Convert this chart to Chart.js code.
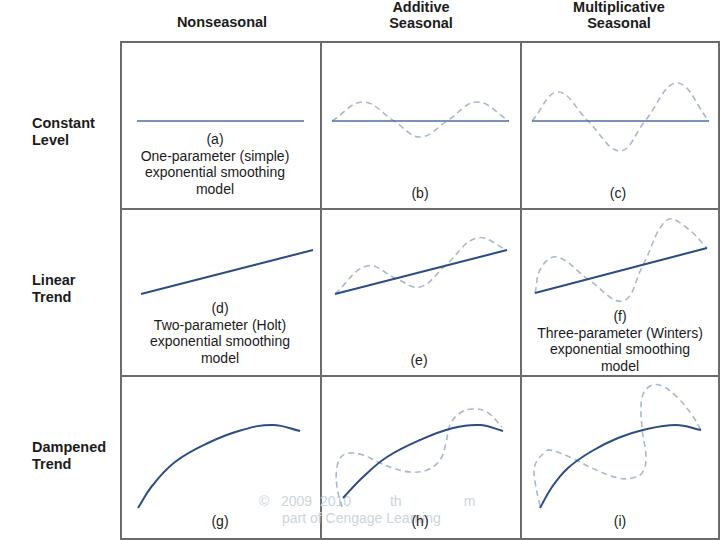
<!DOCTYPE html>
<html>
<head>
<meta charset="utf-8">
<script src="https://cdn.jsdelivr.net/npm/chart.js@4.4.1/dist/chart.umd.min.js"></script>
<style>
  html, body { margin: 0; padding: 0; background: #fff; }
  #page { position: relative; width: 720px; height: 540px; overflow: hidden; font-family: "Liberation Sans", Arial, sans-serif; color: #1b1b1b; }
  .hl, .vl { position: absolute; background: #6c6c6c; }
  .hl { height: 2px; left: 120px; width: 600px; }
  .vl { width: 2px; top: 41px; height: 499px; }
  .head { position: absolute; width: 200px; text-align: center; font-weight: bold; font-size: 14.5px; line-height: 16px; }
  .row { position: absolute; left: 32px; font-weight: bold; font-size: 14.5px; line-height: 16.5px; }
  .cap { position: absolute; width: 220px; text-align: center; font-size: 14px; line-height: 16.7px; }
  .wm { position: absolute; font-size: 14px; color: #cbd5dd; white-space: pre; }
  canvas { position: absolute; }
</style>
</head>
<body>
<div id="page">
  <!-- column headers -->
  <div class="head" style="left:122px;top:14px">Nonseasonal</div>
  <div class="head" style="left:321px;top:-1px">Additive<br>Seasonal</div>
  <div class="head" style="left:519px;top:-1px">Multiplicative<br>Seasonal</div>

  <!-- row headers -->
  <div class="row" style="top:115px">Constant<br>Level</div>
  <div class="row" style="top:272px">Linear<br>Trend</div>
  <div class="row" style="top:439px">Dampened<br>Trend</div>

  <!-- grid -->
  <div class="hl" style="top:41px"></div>
  <div class="hl" style="top:208px"></div>
  <div class="hl" style="top:375px"></div>
  <div class="hl" style="top:538px"></div>
  <div class="vl" style="left:120px"></div>
  <div class="vl" style="left:320px"></div>
  <div class="vl" style="left:520px"></div>
  <div class="vl" style="left:718px"></div>

  <!-- watermark -->
  <div class="wm" style="left:259px;top:493px">©   2009  2010          th                m</div>
  <div class="wm" style="left:282px;top:510px">part of Cengage Learning</div>

  <!-- panel captions -->
  <div class="cap" style="left:105px;top:131px">(a)<br>One-parameter (simple)<br>exponential smoothing<br>model</div>
  <div class="cap" style="left:310px;top:185px">(b)</div>
  <div class="cap" style="left:508px;top:185px">(c)</div>
  <div class="cap" style="left:110px;top:300px">(d)<br>Two-parameter (Holt)<br>exponential smoothing<br>model</div>
  <div class="cap" style="left:309px;top:352px">(e)</div>
  <div class="cap" style="left:510px;top:308px">(f)<br>Three-parameter (Winters)<br>exponential smoothing<br>model</div>
  <div class="cap" style="left:110px;top:513px">(g)</div>
  <div class="cap" style="left:310px;top:513px">(h)</div>
  <div class="cap" style="left:510px;top:513px">(i)</div>

  <canvas id="pa" width="200" height="167" style="left:121px;top:42px"></canvas>
  <canvas id="pb" width="200" height="167" style="left:321px;top:42px"></canvas>
  <canvas id="pc" width="198" height="167" style="left:521px;top:42px"></canvas>
  <canvas id="pd" width="200" height="167" style="left:121px;top:209px"></canvas>
  <canvas id="pe" width="200" height="167" style="left:321px;top:209px"></canvas>
  <canvas id="pf" width="198" height="167" style="left:521px;top:209px"></canvas>
  <canvas id="pg" width="200" height="163" style="left:121px;top:376px"></canvas>
  <canvas id="ph" width="200" height="163" style="left:321px;top:376px"></canvas>
  <canvas id="pi" width="198" height="163" style="left:521px;top:376px"></canvas>
</div>

<script>
// Time (x) and level (y) readings per panel, in panel units

// Constant level
const timeA = [16, 183];
const levelA = [88, 88];
const timeB = [11, 188];
const levelB = [88, 88];
const seasTimeB = [11, 42, 73, 99, 126, 156, 188];
const seasLevelB = [88, 107, 88, 72, 88, 107, 88];
const timeC = [11, 188];
const levelC = [88, 88];
const seasTimeC = [11, 37, 67, 99, 124, 156, 188];
const seasLevelC = [88, 117, 88, 58, 88, 126, 88];

// Linear trend
const timeD = [20, 192];
const levelD = [82, 126];
const timeE = [14, 186];
const levelE = [82, 126];
const seasTimeE = [14, 46, 76, 99, 124, 156, 186];
const seasLevelE = [82, 110, 97, 89, 110, 138, 126];
const timeF = [14, 186];
const levelF = [83, 128];
const seasTimeF = [14, 20, 36, 68, 102, 122, 146, 166, 186];
const seasLevelF = [83, 108, 119, 96, 75, 111, 156, 148, 128];

// Dampened trend
const timeG = [17, 31, 54, 87, 121, 152, 179];
const levelG = [31, 53, 77, 96, 109, 114, 108];
const timeH = [22, 42, 66, 99, 132, 159, 182];
const levelH = [41, 62, 82, 99, 111, 114, 108];
const seasTimeH = [21, 16, 16, 21, 29, 42, 57, 72, 89, 106, 119, 125, 129, 139, 152, 166, 181];
const seasLevelH = [32, 52, 72, 83, 86, 84, 77, 71, 67, 69, 79, 96, 114, 126, 130, 127, 112];
const timeI = [19, 31, 47, 71, 97, 122, 155, 180];
const levelI = [31, 52, 71, 88, 101, 109, 114, 109];
const seasTimeI = [19, 14, 14, 24, 29, 51, 71, 97, 111, 121, 125, 121, 121, 129, 141, 157, 171, 180];
const seasLevelI = [33, 58, 74, 87, 89, 81, 71, 61, 61, 66, 81, 111, 141, 153, 153, 141, 124, 109];

const solidBlue = "#2d4c84";
const flatBlue = "#4f6f9e";
const dashBlue = "#a9b8cc";

function points(t, y) {
  return t.map((x, i) => ({ x, y: y[i] }));
}

function solidLine(t, y, color = solidBlue, width = 2) {
  return {
    data: points(t, y),
    showLine: true,
    borderColor: color,
    borderWidth: width,
    tension: 0.4,
    pointRadius: 0,
    order: 1,
  };
}

function dashedLine(t, y) {
  return {
    data: points(t, y),
    showLine: true,
    borderColor: dashBlue,
    borderWidth: 1.6,
    borderDash: [6, 4],
    tension: 0.4,
    pointRadius: 0,
    order: 2,
  };
}

function panel(id, datasets) {
  const canvas = document.getElementById(id);
  return new Chart(canvas.getContext("2d"), {
    type: "scatter",
    data: { datasets },
    options: {
      responsive: false,
      animation: false,
      events: [],
      layout: { padding: 0 },
      plugins: { legend: { display: false }, tooltip: { enabled: false } },
      scales: {
        x: { type: "linear", display: false, min: 0, max: canvas.width },
        y: { type: "linear", display: false, min: 0, max: canvas.height },
      },
    },
  });
}

panel("pa", [solidLine(timeA, levelA, flatBlue, 1.6)]);
panel("pb", [solidLine(timeB, levelB, flatBlue, 1.6), dashedLine(seasTimeB, seasLevelB)]);
panel("pc", [solidLine(timeC, levelC, flatBlue, 1.6), dashedLine(seasTimeC, seasLevelC)]);
panel("pd", [solidLine(timeD, levelD)]);
panel("pe", [solidLine(timeE, levelE), dashedLine(seasTimeE, seasLevelE)]);
panel("pf", [solidLine(timeF, levelF), dashedLine(seasTimeF, seasLevelF)]);
panel("pg", [solidLine(timeG, levelG)]);
panel("ph", [solidLine(timeH, levelH), dashedLine(seasTimeH, seasLevelH)]);
panel("pi", [solidLine(timeI, levelI), dashedLine(seasTimeI, seasLevelI)]);
</script>
</body>
</html>
